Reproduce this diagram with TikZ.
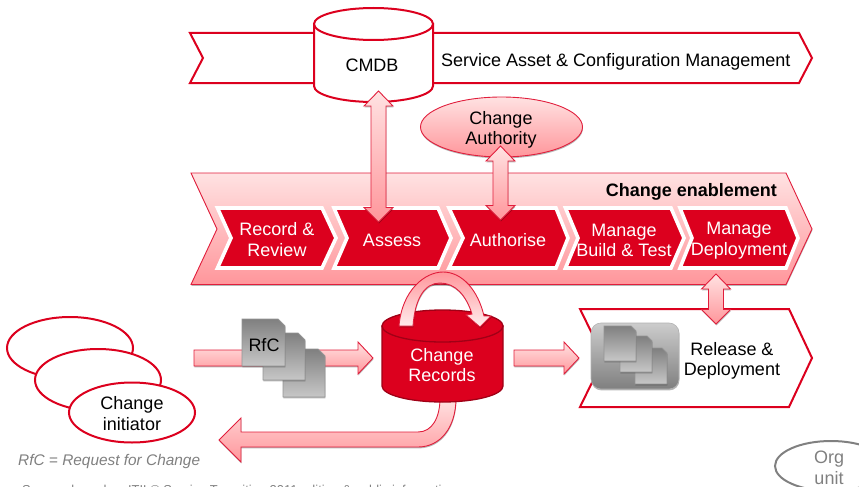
\documentclass[tikz,border=0pt]{standalone}
\usepackage{fontspec}
\setmainfont{Liberation Sans}
\usetikzlibrary{calc,shadows}
\definecolor{brandred}{RGB}{220,0,30}
\definecolor{darkred}{RGB}{160,0,22}
\definecolor{edgered}{RGB}{225,30,60}
\definecolor{pinka}{RGB}{255,226,226}
\definecolor{pinkb}{RGB}{255,150,155}
\definecolor{greytext}{RGB}{128,128,128}
\tikzset{
  x=1pt,y=-1pt,
  softshadow/.style={drop shadow={shadow xshift=0.4pt,shadow yshift=-1.4pt,opacity=.28,fill=black}},
  blockshade/.style={draw=edgered,line width=.9pt,line join=miter,top color=pinka,bottom color=pinkb,softshadow},
  outline/.style={draw=brandred,line width=2pt,fill=white},
  bandpink/.style={draw=edgered,line width=.9pt,top color=pinka,bottom color=pinkb,softshadow},
  stepchev/.style={fill=brandred,draw=white,line width=3.6pt,softshadow},
  label/.style={inner sep=0pt,align=center,font=\fontsize{18}{20.5}\selectfont},
  whitelabel/.style={label,text=white},
  sheet/.style={draw=black!42,line width=.8pt,top color=black!50,bottom color=black!22,softshadow},
}
\newcommand\chevronstep[4]{\path[stepchev] (#1,208) -- (#3,208) -- (#4,238) -- (#3,268) -- (#1,268) -- (#2,238) -- cycle;}
\newcommand\biarrow[2]{\path[blockshade] (#1) -- ($(#1)+(14.5,15)$) -- ($(#1)+(7.5,15)$) -- ($(#2)+(7.5,-14.5)$) -- ($(#2)+(14.5,-14.5)$) -- (#2) -- ($(#2)+(-14.5,-14.5)$) -- ($(#2)+(-7.5,-14.5)$) -- ($(#1)+(-7.5,15)$) -- ($(#1)+(-14.5,15)$) -- cycle;}
\newcommand\rightblock[2]{\path[blockshade] ($(#1)+(0,-8)$) -- ($(#2)+(-15,-8)$) -- ($(#2)+(-15,-16)$) -- (#2) -- ($(#2)+(-15,16)$) -- ($(#2)+(-15,8)$) -- ($(#1)+(0,8)$) -- cycle;}
\newcommand\sheetshape[5][7]{\path[sheet] (#2,#3) -- ({#4-#1},#3) -- (#4,{#3+#1}) -- (#4,#5) -- (#2,#5) -- cycle;}
\begin{document}
\begin{tikzpicture}
\useasboundingbox (0,0) rectangle (859,487);

% Service Asset band
\path[outline] (190,33) -- (799,33) -- (812,58) -- (799,83) -- (190,83) -- (203,58) -- cycle;
% CMDB cylinder
\path[outline] (314,24) -- (314,86) arc[start angle=180,end angle=0,x radius=59.5,y radius=16] -- (433,24) -- cycle;
\path[outline] (373.5,24) ellipse[x radius=59.5,y radius=16];
\node[label] (cmdb) at (372,65) {CMDB};
\node[label,anchor=west] (sacm) at (441,61.5) {Service Asset \& Configuration Management};

% Change enablement band
\path[bandpink] (191,173) -- (786,173) -- (812,229) -- (786,284.5) -- (191,284.5) -- (217,229) -- cycle;
\node[label,anchor=east,font=\fontsize{18}{21}\selectfont\bfseries] (enable) at (777,192) {Change enablement};

% Steps
\chevronstep{217.5}{231}{322}{336}
\chevronstep{334}{347}{438}{451}
\chevronstep{449}{463}{556}{568}
\chevronstep{565.5}{578}{671}{684}
\chevronstep{680}{692}{786}{798}
\node[whitelabel] (record) at (277,239.5) {Record \&\\Review};
\node[whitelabel] (assess) at (392,240) {Assess};
\node[whitelabel] (authorise) at (508,240) {Authorise};
\node[whitelabel] (build) at (624,240.5) {Manage\\Build \& Test};
\node[whitelabel] (deploy) at (739,240.5) {Manage\\Deployment};

% Change Authority
\path[bandpink] (501.5,127) ellipse[x radius=81,y radius=30];
\node[label] (authority) at (501,130) {Change\\Authority};

% Two-way block arrows
\coordinate (cmdbPort) at (378.5,91);
\coordinate (assessPort) at (378.5,222);
\coordinate (authorityPort) at (500.5,146);
\coordinate (authorisePort) at (500.5,220);
\biarrow{cmdbPort}{assessPort}
\biarrow{authorityPort}{authorisePort}

% Release & Deployment
\path[outline] (580,309) -- (789,309) -- (812,358) -- (789,407) -- (580,407) -- (604,358) -- cycle;
\coordinate (deployPort) at (716,274);
\coordinate (releasePort) at (716,324);
\biarrow{deployPort}{releasePort}
\path[draw=black!30,line width=.6pt,top color=black!20,bottom color=black!50,rounded corners=10pt,softshadow] (591,323) rectangle (679,389);
\sheetshape[5]{635}{348}{667}{384}
\sheetshape[5]{620}{336}{652}{372}
\sheetshape[5]{604}{326}{636}{361}
\node[label] (release) at (732,361) {Release \&\\Deployment};

% Change initiators
\path[outline] (70,348) ellipse[x radius=63,y radius=31];
\path[outline] (98,380) ellipse[x radius=63,y radius=31];
\path[outline] (132,412.5) ellipse[x radius=63,y radius=30];
\node[label] (initiator) at (132,413.5) {Change\\initiator};

% RfC flow
\coordinate (rfcStart) at (194,358);
\coordinate (recordsIn) at (373,358);
\rightblock{rfcStart}{recordsIn}
\sheetshape{283}{349}{325}{397}
\sheetshape{263}{333}{305}{380}
\sheetshape{242}{319}{285}{366}
\node[label] (rfc) at (264,345) {RfC};

% Outflow arrows
\coordinate (recordsOut) at (514,358);
\coordinate (releaseIn) at (579,358);
\rightblock{recordsOut}{releaseIn}
\coordinate (recordsBottom) at (448,398);
\coordinate (backTip) at (219,440);
\path[blockshade] ($(recordsBottom)+(8,0)$) .. controls ($(recordsBottom)+(8,30)$) and ($(recordsBottom)+(-8,49)$) .. ($(recordsBottom)+(-30,49)$)
  -- ($(backTip)+(22,7)$) -- ($(backTip)+(22,22)$) -- (backTip) -- ($(backTip)+(22,-22)$) -- ($(backTip)+(22,-8)$)
  -- ($(recordsBottom)+(-30,34)$) .. controls ($(recordsBottom)+(-16,34)$) and ($(recordsBottom)+(-8,20)$) .. ($(recordsBottom)+(-8,0)$) -- cycle;

% Change Records cylinder
\path[draw=darkred,line width=1.3pt,fill=brandred] (382,326) -- (382,386) arc[start angle=180,end angle=0,x radius=60.5,y radius=16] -- (503,326) -- cycle;
\path[draw=darkred,line width=1.3pt,fill=brandred] (442.5,326) ellipse[x radius=60.5,y radius=16];
\node[whitelabel] (records) at (442,365) {Change\\Records};

% Loop arrow on the records
\coordinate (loopStart) at (406,326);
\coordinate (loopTip) at (480,327);
\path[draw=edgered,line width=.9pt,top color=pinkb,bottom color=pinka!60!white,softshadow]
  ($(loopStart)+(-7,0)$) .. controls ($(loopStart)+(-4,-36)$) and ($(loopStart)+(19,-54)$) .. ($(loopStart)+(37,-54)$)
  .. controls ($(loopStart)+(56,-54)$) and ($(loopStart)+(72,-36)$) .. ($(loopTip)+(4,-11)$)
  -- ($(loopTip)+(11,-11)$) -- (loopTip) -- ($(loopTip)+(-14,-12)$) -- ($(loopTip)+(-8,-13)$)
  .. controls ($(loopStart)+(60,-31)$) and ($(loopStart)+(49,-43)$) .. ($(loopStart)+(34,-43)$)
  .. controls ($(loopStart)+(19,-43)$) and ($(loopStart)+(9,-28)$) .. ($(loopStart)+(7,0)$) -- cycle;

% Footnotes
\node[inner sep=0pt,anchor=west,text=greytext,font=\fontsize{15.4}{18}\selectfont\itshape] (note) at (18,461.5) {RfC = Request for Change};
\node[inner sep=0pt,anchor=west,text=greytext,font=\fontsize{12.9}{16}\selectfont] (source) at (22,491) {Source: based on ITIL© Service Transition 2011 edition \& public information};

% Org unit
\path[draw=black!50,line width=2pt] (831,466) ellipse[x radius=56,y radius=25];
\node[label,text=greytext] (org) at (829,468) {Org\\unit};
\end{tikzpicture}
\end{document}
